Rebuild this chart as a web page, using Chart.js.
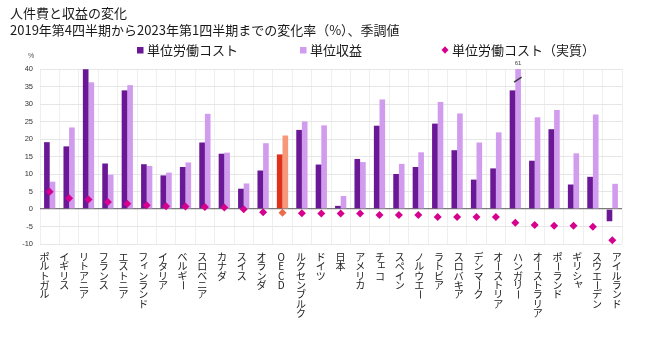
<!DOCTYPE html>
<html><head><meta charset="utf-8">
<script src="https://cdn.jsdelivr.net/npm/chart.js@4.4.0/dist/chart.umd.min.js"></script>
<style>html,body{margin:0;padding:0;background:#fff;}#wrap{width:646px;height:339px;}</style>
</head><body><div id="wrap"><canvas id="c" width="646" height="339"></canvas></div>
<script>
const titleLines = ['人件費と収益の変化', '2019年第4四半期から2023年第1四半期までの変化率（%）、季調値'];
const seriesNames = ['単位労働コスト', '単位収益', '単位労働コスト（実質）'];
const unitLabel = '%';
const categories = ['ポルトガル','イギリス','リトアニア','フランス','エストニア','フィンランド','イタリア','ベルギー','スロベニア','カナダ','スイス','オランダ','OECD','ルクセンブルク','ドイツ','日本','アメリカ','チェコ','スペイン','ノルウエー','ラトビア','スロバキア','デンマーク','オーストリア','ハンガリー','オーストラリア','ポーランド','ギリシャ','スウエーデン','アイルランド'];
const unitLabourCost = [19.1,17.9,39.9,13.0,33.9,12.8,9.6,12.0,19.0,15.8,5.8,11.0,15.6,22.6,12.7,0.9,14.3,23.8,10.0,12.0,24.4,16.8,8.4,11.6,33.9,13.8,22.8,7.0,9.2,-3.5];
const unitProfit = [7.8,23.3,36.2,9.8,35.4,12.3,10.4,13.3,27.2,16.1,7.3,18.8,21.0,25.0,23.9,3.7,13.4,31.3,12.9,16.2,30.6,27.3,19.0,21.9,61,26.2,28.3,15.9,27.0,7.2];
const realUnitLabourCost = [4.9,3.1,2.7,2.0,1.5,1.1,0.8,0.7,0.6,0.4,-0.1,-0.9,-1.1,-1.2,-1.3,-1.3,-1.3,-1.7,-1.7,-1.7,-2.3,-2.3,-2.3,-2.3,-3.9,-4.6,-4.8,-4.8,-5.1,-8.9];
const yMin = -10, yMax = 40, yStep = 5;

const C_DARK = '#6b1896', C_LIGHT = '#d19bee', C_PT = '#d6008e';
const C_DARK_H = '#e0311b', C_LIGHT_H = '#f6987a', C_PT_H = '#ea6c48';
const isHi = c => c === 'OECD';

const legendPlugin = {
  id: 'customLegend',
  afterDraw(chart) {
    const ctx = chart.ctx;
    const items = [
      {ds: 0, style: 'rect', x: 140},
      {ds: 1, style: 'rect', x: 303},
      {ds: 2, style: 'diamond', x: 445}
    ];
    const y = 50;
    ctx.save();
    ctx.font = '13px "Noto Sans CJK JP"';
    ctx.textBaseline = 'middle';
    ctx.textAlign = 'left';
    items.forEach(it => {
      const ds = chart.data.datasets[it.ds];
      ctx.fillStyle = it.ds === 2 ? C_PT : (it.ds === 0 ? C_DARK : C_LIGHT);
      if (it.style === 'rect') {
        ctx.fillRect(it.x - 3, y - 3, 6.5, 6.5);
      } else {
        ctx.beginPath();
        ctx.moveTo(it.x, y - 3.8); ctx.lineTo(it.x + 3.5, y); ctx.lineTo(it.x, y + 3.8); ctx.lineTo(it.x - 3.5, y); ctx.closePath();
        ctx.fill();
      }
      ctx.fillStyle = '#1a1a1a';
      ctx.fillText(ds.label, it.x + 7, y);
    });
    // unit label
    ctx.font = '7px "Liberation Sans"';
    ctx.fillStyle = '#555';
    ctx.textAlign = 'center';
    ctx.fillText(unitLabel, 31, 56);
    ctx.restore();
  }
};

const smallKana = 'ァィゥェォッャュョ';
const xLabelPlugin = {
  id: 'xLabels',
  afterDraw(chart) {
    const ctx = chart.ctx;
    const xs = chart.scales.x;
    ctx.save();
    ctx.font = '10px "Noto Sans CJK JP"';
    ctx.fillStyle = '#1a1a1a';
    ctx.textAlign = 'center';
    ctx.textBaseline = 'middle';
    const pitch = 9.4;
    const y0 = 257;
    categories.forEach((lab, i) => {
      const x = xs.getPixelForValue(i) - 5.2 + 0.33 * i;
      [...lab].forEach((ch, k) => {
        const cy = y0 + k * pitch;
        if (ch === 'ー') {
          ctx.save();
          ctx.translate(x, cy);
          ctx.rotate(Math.PI / 2);
          ctx.fillText(ch, 0, 0);
          ctx.restore();
        } else if (smallKana.includes(ch)) {
          ctx.fillText(ch, x + 1.5, cy - 2);
        } else {
          ctx.fillText(ch, x, cy);
        }
      });
    });
    ctx.restore();
  }
};

const breakPlugin = {
  id: 'breakMark',
  afterDatasetsDraw(chart) {
    const ctx = chart.ctx;
    const meta = chart.getDatasetMeta(1);
    const top = chart.chartArea.top;
    unitProfit.forEach((v, i) => {
      if (v > yMax) {
        const bar = meta.data[i];
        ctx.save();
        ctx.font = '6px "Liberation Sans"';
        ctx.fillStyle = '#444';
        ctx.textAlign = 'center';
        ctx.textBaseline = 'middle';
        ctx.fillText(String(v), bar.x, top - 6);
        ctx.strokeStyle = '#3a3a3a';
        ctx.lineWidth = 1.5;
        ctx.beginPath();
        ctx.moveTo(bar.x - 4, top + 13);
        ctx.lineTo(bar.x + 3.5, top + 8);
        ctx.stroke();
        ctx.restore();
      }
    });
  }
};

new Chart(document.getElementById('c'), {
  type: 'bar',
  data: {
    labels: categories,
    datasets: [
      {
        label: seriesNames[0], data: unitLabourCost, order: 2,
        backgroundColor: categories.map(c => isHi(c) ? C_DARK_H : C_DARK),
        borderWidth: 0, categoryPercentage: 0.58, barPercentage: 1, clip: 0
      },
      {
        label: seriesNames[1], data: unitProfit, order: 2,
        backgroundColor: categories.map(c => isHi(c) ? C_LIGHT_H : C_LIGHT),
        borderWidth: 0, categoryPercentage: 0.58, barPercentage: 1, clip: 0
      },
      {
        type: 'line', label: seriesNames[2], data: realUnitLabourCost, order: 0,
        showLine: false, pointStyle: 'rectRot', pointRadius: 4, pointHoverRadius: 4,
        pointBackgroundColor: categories.map(c => isHi(c) ? C_PT_H : C_PT),
        pointBorderWidth: 0, borderWidth: 0, clip: false
      }
    ]
  },
  options: {
    responsive: false,
    animation: false,
    events: [],
    layout: {padding: {left: 10, right: 24, top: 0, bottom: 95}},
    plugins: {
      legend: {display: false},
      tooltip: {enabled: false},
      title: {
        display: true, text: titleLines, align: 'start', color: '#1a1a1a',
        font: {family: '"Noto Sans CJK JP"', size: 13, weight: 'normal', lineHeight: 1.27},
        padding: {top: 5, bottom: 31}
      }
    },
    scales: {
      x: {
        ticks: {display: false},
        grid: {display: true, color: '#efefef', drawTicks: false, offset: true},
        border: {display: false}
      },
      y: {
        min: yMin, max: yMax,
        ticks: {stepSize: yStep, color: '#333', padding: 7, font: {family: '"Liberation Sans"', size: 7.5}},
        grid: {
          drawTicks: false,
          color: c => (c.tick && c.tick.value === 0) ? '#7a7a7a' : '#e6e6e6',
          lineWidth: c => (c.tick && c.tick.value === 0) ? 1.3 : 1
        },
        border: {display: false},
        afterFit(scale) { scale.width = 30; }
      }
    }
  },
  plugins: [legendPlugin, xLabelPlugin, breakPlugin]
});
</script></body></html>
